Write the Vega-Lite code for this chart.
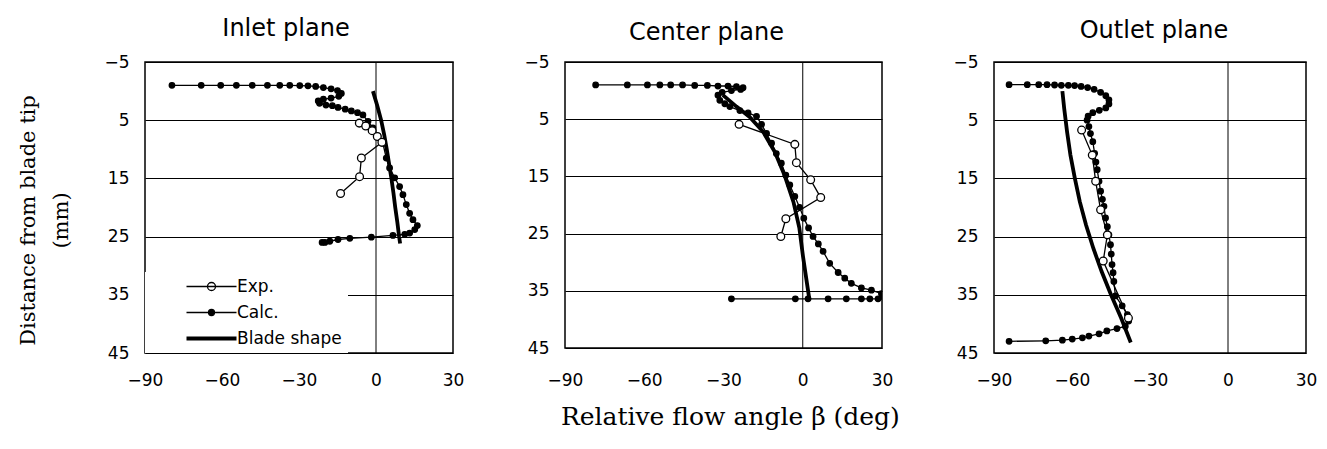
{
  "$schema": "https://vega.github.io/schema/vega-lite/v6.json",
  "background": "white",
  "padding": {"left": 17, "top": 16, "right": 5, "bottom": 5},
  "title": {"text": "Relative flow angle  β  (deg)", "orient": "bottom", "anchor": "middle", "font": "DejaVu Serif", "fontSize": 25, "fontWeight": "normal", "color": "black", "offset": 16, "dx": 63},
  "config": {
    "view": {"stroke": "black", "strokeWidth": 1.5},
    "font": "DejaVu Sans",
    "axis": {"domain": false, "ticks": false, "labelFont": "DejaVu Sans", "labelFontSize": 17, "labelColor": "black", "labelOverlap": false, "labelFlush": false, "gridColor": "black", "gridWidth": 1, "gridOpacity": 1},
    "title": {"font": "DejaVu Sans", "fontSize": 24, "fontWeight": "normal", "color": "black", "anchor": "middle"}
  },
  "datasets": {
    "zero": [{"z": 0}],
    "rows": [
      {"p":"Inlet","s":"Calc.","i":1,"a":-79.5,"d":-1.0},
      {"p":"Inlet","s":"Calc.","i":2,"a":-68.1,"d":-1.0},
      {"p":"Inlet","s":"Calc.","i":3,"a":-60.5,"d":-1.0},
      {"p":"Inlet","s":"Calc.","i":4,"a":-54.4,"d":-1.0},
      {"p":"Inlet","s":"Calc.","i":5,"a":-48.2,"d":-1.0},
      {"p":"Inlet","s":"Calc.","i":6,"a":-42.3,"d":-1.0},
      {"p":"Inlet","s":"Calc.","i":7,"a":-37.5,"d":-1.0},
      {"p":"Inlet","s":"Calc.","i":8,"a":-33.6,"d":-1.0},
      {"p":"Inlet","s":"Calc.","i":9,"a":-29.7,"d":-0.95},
      {"p":"Inlet","s":"Calc.","i":10,"a":-26.5,"d":-0.9},
      {"p":"Inlet","s":"Calc.","i":11,"a":-23.5,"d":-0.8},
      {"p":"Inlet","s":"Calc.","i":12,"a":-20.5,"d":-0.6},
      {"p":"Inlet","s":"Calc.","i":13,"a":-17.5,"d":-0.4},
      {"p":"Inlet","s":"Calc.","i":14,"a":-15.0,"d":-0.1},
      {"p":"Inlet","s":"Calc.","i":15,"a":-13.5,"d":0.4},
      {"p":"Inlet","s":"Calc.","i":16,"a":-14.5,"d":0.9},
      {"p":"Inlet","s":"Calc.","i":17,"a":-17.5,"d":1.2},
      {"p":"Inlet","s":"Calc.","i":18,"a":-20.5,"d":1.4},
      {"p":"Inlet","s":"Calc.","i":19,"a":-22.5,"d":1.7},
      {"p":"Inlet","s":"Calc.","i":20,"a":-22.0,"d":2.1},
      {"p":"Inlet","s":"Calc.","i":21,"a":-19.5,"d":2.4},
      {"p":"Inlet","s":"Calc.","i":22,"a":-17.0,"d":2.5},
      {"p":"Inlet","s":"Calc.","i":23,"a":-14.8,"d":2.8},
      {"p":"Inlet","s":"Calc.","i":24,"a":-12.0,"d":3.1},
      {"p":"Inlet","s":"Calc.","i":25,"a":-9.6,"d":3.4},
      {"p":"Inlet","s":"Calc.","i":26,"a":-7.2,"d":3.7},
      {"p":"Inlet","s":"Calc.","i":27,"a":-5.1,"d":4.1},
      {"p":"Inlet","s":"Calc.","i":28,"a":-3.1,"d":5.2},
      {"p":"Inlet","s":"Calc.","i":29,"a":-1.2,"d":6.3},
      {"p":"Inlet","s":"Calc.","i":30,"a":0.8,"d":7.7},
      {"p":"Inlet","s":"Calc.","i":31,"a":2.7,"d":9.0},
      {"p":"Inlet","s":"Calc.","i":32,"a":4.0,"d":11.5},
      {"p":"Inlet","s":"Calc.","i":33,"a":5.3,"d":13.2},
      {"p":"Inlet","s":"Calc.","i":34,"a":7.3,"d":14.9},
      {"p":"Inlet","s":"Calc.","i":35,"a":9.2,"d":16.4},
      {"p":"Inlet","s":"Calc.","i":36,"a":10.5,"d":17.8},
      {"p":"Inlet","s":"Calc.","i":37,"a":11.8,"d":19.5},
      {"p":"Inlet","s":"Calc.","i":38,"a":13.1,"d":21.0},
      {"p":"Inlet","s":"Calc.","i":39,"a":14.4,"d":22.1},
      {"p":"Inlet","s":"Calc.","i":40,"a":16.1,"d":23.1},
      {"p":"Inlet","s":"Calc.","i":41,"a":15.1,"d":23.8},
      {"p":"Inlet","s":"Calc.","i":42,"a":13.1,"d":24.4},
      {"p":"Inlet","s":"Calc.","i":43,"a":11.2,"d":24.6},
      {"p":"Inlet","s":"Calc.","i":44,"a":6.6,"d":24.8},
      {"p":"Inlet","s":"Calc.","i":45,"a":-1.8,"d":25.1},
      {"p":"Inlet","s":"Calc.","i":46,"a":-10.2,"d":25.3},
      {"p":"Inlet","s":"Calc.","i":47,"a":-14.8,"d":25.5},
      {"p":"Inlet","s":"Calc.","i":48,"a":-18.0,"d":25.8},
      {"p":"Inlet","s":"Calc.","i":49,"a":-19.9,"d":26.0},
      {"p":"Inlet","s":"Calc.","i":50,"a":-21.0,"d":26.0},
      {"p":"Inlet","s":"Exp.","i":1,"a":-6.5,"d":5.5},
      {"p":"Inlet","s":"Exp.","i":2,"a":-4.0,"d":6.0},
      {"p":"Inlet","s":"Exp.","i":3,"a":-1.5,"d":6.8},
      {"p":"Inlet","s":"Exp.","i":4,"a":0.5,"d":7.8},
      {"p":"Inlet","s":"Exp.","i":5,"a":2.3,"d":8.8},
      {"p":"Inlet","s":"Exp.","i":6,"a":-5.7,"d":11.5},
      {"p":"Inlet","s":"Exp.","i":7,"a":-6.4,"d":14.7},
      {"p":"Inlet","s":"Exp.","i":8,"a":-13.8,"d":17.6},
      {"p":"Inlet","s":"Blade shape","i":1,"a":-1.2,"d":0},
      {"p":"Inlet","s":"Blade shape","i":2,"a":0.5,"d":2.5},
      {"p":"Inlet","s":"Blade shape","i":3,"a":2.0,"d":5},
      {"p":"Inlet","s":"Blade shape","i":4,"a":3.2,"d":7.5},
      {"p":"Inlet","s":"Blade shape","i":5,"a":4.2,"d":10},
      {"p":"Inlet","s":"Blade shape","i":6,"a":5.1,"d":12.5},
      {"p":"Inlet","s":"Blade shape","i":7,"a":6.0,"d":15},
      {"p":"Inlet","s":"Blade shape","i":8,"a":6.8,"d":17.5},
      {"p":"Inlet","s":"Blade shape","i":9,"a":7.5,"d":20},
      {"p":"Inlet","s":"Blade shape","i":10,"a":8.3,"d":22.5},
      {"p":"Inlet","s":"Blade shape","i":11,"a":9.0,"d":25},
      {"p":"Inlet","s":"Blade shape","i":12,"a":9.4,"d":26.2},

      {"p":"Center","s":"Calc.","i":1,"a":-78.4,"d":-1.0},
      {"p":"Center","s":"Calc.","i":2,"a":-66.4,"d":-1.0},
      {"p":"Center","s":"Calc.","i":3,"a":-58.8,"d":-1.0},
      {"p":"Center","s":"Calc.","i":4,"a":-54.1,"d":-1.0},
      {"p":"Center","s":"Calc.","i":5,"a":-50.0,"d":-1.0},
      {"p":"Center","s":"Calc.","i":6,"a":-45.5,"d":-1.0},
      {"p":"Center","s":"Calc.","i":7,"a":-40.9,"d":-0.9},
      {"p":"Center","s":"Calc.","i":8,"a":-36.1,"d":-0.9},
      {"p":"Center","s":"Calc.","i":9,"a":-32.1,"d":-0.8},
      {"p":"Center","s":"Calc.","i":10,"a":-28.3,"d":-0.8},
      {"p":"Center","s":"Calc.","i":11,"a":-25.1,"d":-0.7},
      {"p":"Center","s":"Calc.","i":12,"a":-22.6,"d":-0.5},
      {"p":"Center","s":"Calc.","i":13,"a":-23.5,"d":-0.2},
      {"p":"Center","s":"Calc.","i":14,"a":-27.0,"d":0.0},
      {"p":"Center","s":"Calc.","i":15,"a":-30.5,"d":0.3},
      {"p":"Center","s":"Calc.","i":16,"a":-32.1,"d":0.8},
      {"p":"Center","s":"Calc.","i":17,"a":-31.4,"d":1.7},
      {"p":"Center","s":"Calc.","i":18,"a":-29.5,"d":2.3},
      {"p":"Center","s":"Calc.","i":19,"a":-27.6,"d":2.8},
      {"p":"Center","s":"Calc.","i":20,"a":-23.8,"d":3.5},
      {"p":"Center","s":"Calc.","i":21,"a":-20.7,"d":3.9},
      {"p":"Center","s":"Calc.","i":22,"a":-17.5,"d":4.5},
      {"p":"Center","s":"Calc.","i":23,"a":-15.6,"d":5.9},
      {"p":"Center","s":"Calc.","i":24,"a":-13.7,"d":7.5},
      {"p":"Center","s":"Calc.","i":25,"a":-11.8,"d":9.2},
      {"p":"Center","s":"Calc.","i":26,"a":-10.0,"d":11.0},
      {"p":"Center","s":"Calc.","i":27,"a":-8.1,"d":12.7},
      {"p":"Center","s":"Calc.","i":28,"a":-6.4,"d":14.8},
      {"p":"Center","s":"Calc.","i":29,"a":-4.9,"d":16.5},
      {"p":"Center","s":"Calc.","i":30,"a":-3.0,"d":18.5},
      {"p":"Center","s":"Calc.","i":31,"a":-1.2,"d":20.4},
      {"p":"Center","s":"Calc.","i":32,"a":0.4,"d":22.3},
      {"p":"Center","s":"Calc.","i":33,"a":2.2,"d":24.0},
      {"p":"Center","s":"Calc.","i":34,"a":3.9,"d":25.5},
      {"p":"Center","s":"Calc.","i":35,"a":5.9,"d":26.8},
      {"p":"Center","s":"Calc.","i":36,"a":7.7,"d":28.1},
      {"p":"Center","s":"Calc.","i":37,"a":10.2,"d":30.2},
      {"p":"Center","s":"Calc.","i":38,"a":13.4,"d":31.8},
      {"p":"Center","s":"Calc.","i":39,"a":15.9,"d":32.8},
      {"p":"Center","s":"Calc.","i":40,"a":18.4,"d":33.7},
      {"p":"Center","s":"Calc.","i":41,"a":22.2,"d":34.5},
      {"p":"Center","s":"Calc.","i":42,"a":26.0,"d":34.9},
      {"p":"Center","s":"Calc.","i":43,"a":29.8,"d":35.5},
      {"p":"Center","s":"Calc.","i":44,"a":30.2,"d":36.0},
      {"p":"Center","s":"Calc.","i":45,"a":28.5,"d":36.4},
      {"p":"Center","s":"Calc.","i":46,"a":25.4,"d":36.4},
      {"p":"Center","s":"Calc.","i":47,"a":22.2,"d":36.4},
      {"p":"Center","s":"Calc.","i":48,"a":16.5,"d":36.4},
      {"p":"Center","s":"Calc.","i":49,"a":9.6,"d":36.4},
      {"p":"Center","s":"Calc.","i":50,"a":2.0,"d":36.4},
      {"p":"Center","s":"Calc.","i":51,"a":-2.8,"d":36.4},
      {"p":"Center","s":"Calc.","i":52,"a":-27.0,"d":36.4},
      {"p":"Center","s":"Exp.","i":1,"a":-24.1,"d":5.9},
      {"p":"Center","s":"Exp.","i":2,"a":-3.0,"d":9.4},
      {"p":"Center","s":"Exp.","i":3,"a":-2.4,"d":12.6},
      {"p":"Center","s":"Exp.","i":4,"a":3.0,"d":15.6},
      {"p":"Center","s":"Exp.","i":5,"a":6.8,"d":18.7},
      {"p":"Center","s":"Exp.","i":6,"a":-6.4,"d":22.4},
      {"p":"Center","s":"Exp.","i":7,"a":-8.3,"d":25.5},
      {"p":"Center","s":"Blade shape","i":1,"a":-30.2,"d":0.8},
      {"p":"Center","s":"Blade shape","i":2,"a":-25.1,"d":2.8},
      {"p":"Center","s":"Blade shape","i":3,"a":-20.1,"d":4.6},
      {"p":"Center","s":"Blade shape","i":4,"a":-15.0,"d":7.2},
      {"p":"Center","s":"Blade shape","i":5,"a":-10.6,"d":10.7},
      {"p":"Center","s":"Blade shape","i":6,"a":-6.8,"d":14.9},
      {"p":"Center","s":"Blade shape","i":7,"a":-3.5,"d":19.5},
      {"p":"Center","s":"Blade shape","i":8,"a":-1.3,"d":24.0},
      {"p":"Center","s":"Blade shape","i":9,"a":0.1,"d":29.0},
      {"p":"Center","s":"Blade shape","i":10,"a":1.6,"d":33.7},
      {"p":"Center","s":"Blade shape","i":11,"a":2.5,"d":36.5},

      {"p":"Outlet","s":"Calc.","i":1,"a":-84.2,"d":-1.1},
      {"p":"Outlet","s":"Calc.","i":2,"a":-77.2,"d":-1.1},
      {"p":"Outlet","s":"Calc.","i":3,"a":-72.8,"d":-1.1},
      {"p":"Outlet","s":"Calc.","i":4,"a":-69.6,"d":-1.1},
      {"p":"Outlet","s":"Calc.","i":5,"a":-66.7,"d":-1.05},
      {"p":"Outlet","s":"Calc.","i":6,"a":-64.1,"d":-1.0},
      {"p":"Outlet","s":"Calc.","i":7,"a":-61.4,"d":-1.0},
      {"p":"Outlet","s":"Calc.","i":8,"a":-59.0,"d":-0.95},
      {"p":"Outlet","s":"Calc.","i":9,"a":-56.5,"d":-0.8},
      {"p":"Outlet","s":"Calc.","i":10,"a":-54.0,"d":-0.6},
      {"p":"Outlet","s":"Calc.","i":11,"a":-51.5,"d":-0.3},
      {"p":"Outlet","s":"Calc.","i":12,"a":-49.0,"d":0.2},
      {"p":"Outlet","s":"Calc.","i":13,"a":-47.0,"d":0.8},
      {"p":"Outlet","s":"Calc.","i":14,"a":-45.8,"d":1.5},
      {"p":"Outlet","s":"Calc.","i":15,"a":-45.8,"d":2.2},
      {"p":"Outlet","s":"Calc.","i":16,"a":-47.0,"d":2.9},
      {"p":"Outlet","s":"Calc.","i":17,"a":-49.5,"d":3.3},
      {"p":"Outlet","s":"Calc.","i":18,"a":-52.0,"d":3.7},
      {"p":"Outlet","s":"Calc.","i":19,"a":-53.8,"d":4.3},
      {"p":"Outlet","s":"Calc.","i":20,"a":-54.2,"d":5.0},
      {"p":"Outlet","s":"Calc.","i":21,"a":-53.5,"d":6.1},
      {"p":"Outlet","s":"Calc.","i":22,"a":-52.9,"d":7.3},
      {"p":"Outlet","s":"Calc.","i":23,"a":-52.0,"d":8.7},
      {"p":"Outlet","s":"Calc.","i":24,"a":-51.3,"d":10.7},
      {"p":"Outlet","s":"Calc.","i":25,"a":-50.8,"d":12.2},
      {"p":"Outlet","s":"Calc.","i":26,"a":-50.3,"d":13.5},
      {"p":"Outlet","s":"Calc.","i":27,"a":-49.6,"d":15.5},
      {"p":"Outlet","s":"Calc.","i":28,"a":-49.0,"d":17.2},
      {"p":"Outlet","s":"Calc.","i":29,"a":-48.3,"d":18.6},
      {"p":"Outlet","s":"Calc.","i":30,"a":-47.7,"d":19.8},
      {"p":"Outlet","s":"Calc.","i":31,"a":-47.1,"d":21.8},
      {"p":"Outlet","s":"Calc.","i":32,"a":-46.4,"d":23.3},
      {"p":"Outlet","s":"Calc.","i":33,"a":-45.8,"d":24.7},
      {"p":"Outlet","s":"Calc.","i":34,"a":-45.2,"d":26.4},
      {"p":"Outlet","s":"Calc.","i":35,"a":-44.9,"d":28.0},
      {"p":"Outlet","s":"Calc.","i":36,"a":-44.6,"d":29.8},
      {"p":"Outlet","s":"Calc.","i":37,"a":-44.2,"d":31.2},
      {"p":"Outlet","s":"Calc.","i":38,"a":-43.9,"d":32.7},
      {"p":"Outlet","s":"Calc.","i":39,"a":-43.3,"d":35.2},
      {"p":"Outlet","s":"Calc.","i":40,"a":-40.7,"d":36.9},
      {"p":"Outlet","s":"Calc.","i":41,"a":-38.7,"d":38.4},
      {"p":"Outlet","s":"Calc.","i":42,"a":-38.2,"d":39.5},
      {"p":"Outlet","s":"Calc.","i":43,"a":-39.5,"d":40.4},
      {"p":"Outlet","s":"Calc.","i":44,"a":-42.7,"d":40.8},
      {"p":"Outlet","s":"Calc.","i":45,"a":-46.6,"d":41.2},
      {"p":"Outlet","s":"Calc.","i":46,"a":-49.6,"d":41.7},
      {"p":"Outlet","s":"Calc.","i":47,"a":-53.5,"d":42.1},
      {"p":"Outlet","s":"Calc.","i":48,"a":-56.0,"d":42.4},
      {"p":"Outlet","s":"Calc.","i":49,"a":-59.9,"d":42.6},
      {"p":"Outlet","s":"Calc.","i":50,"a":-63.7,"d":42.8},
      {"p":"Outlet","s":"Calc.","i":51,"a":-70.1,"d":42.9},
      {"p":"Outlet","s":"Calc.","i":52,"a":-84.2,"d":43.0},
      {"p":"Outlet","s":"Exp.","i":1,"a":-56.3,"d":6.7},
      {"p":"Outlet","s":"Exp.","i":2,"a":-52.2,"d":11.0},
      {"p":"Outlet","s":"Exp.","i":3,"a":-50.9,"d":15.5},
      {"p":"Outlet","s":"Exp.","i":4,"a":-49.0,"d":20.4},
      {"p":"Outlet","s":"Exp.","i":5,"a":-46.4,"d":24.7},
      {"p":"Outlet","s":"Exp.","i":6,"a":-48.0,"d":29.2},
      {"p":"Outlet","s":"Exp.","i":7,"a":-38.3,"d":39.0},
      {"p":"Outlet","s":"Blade shape","i":1,"a":-63.7,"d":0},
      {"p":"Outlet","s":"Blade shape","i":2,"a":-63.0,"d":3},
      {"p":"Outlet","s":"Blade shape","i":3,"a":-61.9,"d":7},
      {"p":"Outlet","s":"Blade shape","i":4,"a":-60.6,"d":11},
      {"p":"Outlet","s":"Blade shape","i":5,"a":-58.9,"d":15},
      {"p":"Outlet","s":"Blade shape","i":6,"a":-57.0,"d":19},
      {"p":"Outlet","s":"Blade shape","i":7,"a":-54.6,"d":23},
      {"p":"Outlet","s":"Blade shape","i":8,"a":-51.8,"d":27},
      {"p":"Outlet","s":"Blade shape","i":9,"a":-48.6,"d":31},
      {"p":"Outlet","s":"Blade shape","i":10,"a":-45.0,"d":35},
      {"p":"Outlet","s":"Blade shape","i":11,"a":-41.1,"d":39},
      {"p":"Outlet","s":"Blade shape","i":12,"a":-37.4,"d":43.2}
    ]
  },
  "spacing": 58,
  "resolve": {"scale": {"stroke": "independent"}, "legend": {"stroke": "independent"}},
  "hconcat": [
    {
      "width": 308, "height": 291,
      "title": {"text": "Inlet plane", "offset": 12, "dx": -13},
      "data": {"name": "rows"},
      "transform": [{"filter": "datum.p === 'Inlet'"}],
      "layer": [
        {
          "data": {"name": "zero"},
          "mark": {"type": "rule", "color": "black", "strokeWidth": 1},
          "encoding": {"x": {"field": "z", "type": "quantitative", "title": null, "scale": {"domain": [-90, 30], "nice": false, "zero": false}}}
        },
        {
          "mark": {"type": "line", "strokeCap": "butt"},
          "encoding": {
            "x": {"field": "a", "type": "quantitative", "scale": {"domain": [-90, 30], "nice": false, "zero": false},
                  "axis": {"values": [-90, -60, -30, 0, 30], "grid": false, "labelPadding": 19, "title": null}},
            "y": {"field": "d", "type": "quantitative", "scale": {"domain": [-5, 45], "reverse": true, "nice": false, "zero": false},
                  "axis": {"values": [-5, 0, 5, 10, 15, 20, 25, 30, 35, 40, 45], "grid": true, "labelPadding": 16,
                           "title": ["Distance from blade tip", "(mm)"], "titleFont": "DejaVu Serif", "titleFontSize": 21, "titleFontWeight": "normal", "titleColor": "black", "titlePadding": 32, "titleLineHeight": 33, "titleY": 158}},
            "order": {"field": "i", "type": "quantitative"},
            "stroke": {"field": "s", "type": "nominal", "scale": {"domain": ["Exp.", "Calc.", "Blade shape"], "range": ["black", "black", "black"]},
              "legend": {
                "title": null,
                "orient": "bottom-left", "offset": 0, "padding": 6,
                "fillColor": "white",
                "symbolSize": 100, "symbolOffset": 52, "labelOffset": 17,
                "labelFont": "DejaVu Sans", "labelFontSize": 17, "labelColor": "black", "labelLimit": 300,
                "rowPadding": 8,
                "encode": {"symbols": {"update": {
                  "shape": {"signal": "datum.value === 'Exp.' ? 'M-5,0H5M-0.8,0A0.8,0.8,0,1,1,0.8,0A0.8,0.8,0,1,1,-0.8,0Z' : datum.value === 'Calc.' ? 'M-5,0H5M-0.6,0A0.6,0.6,0,1,1,0.6,0A0.6,0.6,0,1,1,-0.6,0Z' : 'M-5,0H5'"},
                  "fill": {"signal": "datum.value === 'Calc.' ? 'black' : datum.value === 'Exp.' ? 'white' : 'transparent'"},
                  "stroke": {"value": "black"},
                  "strokeWidth": {"signal": "datum.value === 'Blade shape' ? 3.8 : 1.3"},
                  "opacity": {"value": 1}
                }}}
              }},
            "strokeWidth": {"condition": {"test": "datum.s === 'Blade shape'", "value": 3.8}, "value": 1.3}
          }
        },
        {
          "transform": [{"filter": "datum.s !== 'Blade shape'"}],
          "mark": {"type": "point", "stroke": "black", "strokeWidth": 1.3, "opacity": 1},
          "encoding": {
            "x": {"field": "a", "type": "quantitative", "scale": {"domain": [-90, 30], "nice": false, "zero": false}},
            "y": {"field": "d", "type": "quantitative", "scale": {"domain": [-5, 45], "reverse": true, "nice": false, "zero": false}},
            "fill": {"condition": {"test": "datum.s === 'Calc.'", "value": "black"}, "value": "white"},
            "size": {"condition": {"test": "datum.s === 'Calc.'", "value": 30}, "value": 60}
          }
        }
      ]
    },
    {
      "width": 317, "height": 286,
      "title": {"text": "Center  plane", "offset": 8, "dx": -17},
      "data": {"name": "rows"},
      "transform": [{"filter": "datum.p === 'Center'"}],
      "layer": [
        {
          "data": {"name": "zero"},
          "mark": {"type": "rule", "color": "black", "strokeWidth": 1},
          "encoding": {"x": {"field": "z", "type": "quantitative", "title": null, "scale": {"domain": [-90, 30], "nice": false, "zero": false}}}
        },
        {
          "mark": {"type": "line", "color": "black", "strokeCap": "butt", "clip": true},
          "encoding": {
            "x": {"field": "a", "type": "quantitative", "scale": {"domain": [-90, 30], "nice": false, "zero": false},
                  "axis": {"values": [-90, -60, -30, 0, 30], "grid": false, "labelPadding": 24, "title": null}},
            "y": {"field": "d", "type": "quantitative", "scale": {"domain": [-5, 45], "reverse": true, "nice": false, "zero": false},
                  "axis": {"values": [-5, 0, 5, 10, 15, 20, 25, 30, 35, 40, 45], "grid": true, "labelPadding": 16, "title": null}},
            "order": {"field": "i", "type": "quantitative"},
            "detail": {"field": "s", "type": "nominal"},
            "strokeWidth": {"condition": {"test": "datum.s === 'Blade shape'", "value": 3.8}, "value": 1.3}
          }
        },
        {
          "transform": [{"filter": "datum.s !== 'Blade shape'"}],
          "mark": {"type": "point", "stroke": "black", "strokeWidth": 1.3, "opacity": 1, "clip": true},
          "encoding": {
            "x": {"field": "a", "type": "quantitative", "scale": {"domain": [-90, 30], "nice": false, "zero": false}},
            "y": {"field": "d", "type": "quantitative", "scale": {"domain": [-5, 45], "reverse": true, "nice": false, "zero": false}},
            "fill": {"condition": {"test": "datum.s === 'Calc.'", "value": "black"}, "value": "white"},
            "size": {"condition": {"test": "datum.s === 'Calc.'", "value": 30}, "value": 60}
          }
        }
      ]
    },
    {
      "width": 312, "height": 291,
      "title": {"text": "Outlet plane", "offset": 10, "dx": 4},
      "data": {"name": "rows"},
      "transform": [{"filter": "datum.p === 'Outlet'"}],
      "layer": [
        {
          "data": {"name": "zero"},
          "mark": {"type": "rule", "color": "black", "strokeWidth": 1},
          "encoding": {"x": {"field": "z", "type": "quantitative", "title": null, "scale": {"domain": [-90, 30], "nice": false, "zero": false}}}
        },
        {
          "mark": {"type": "line", "color": "black", "strokeCap": "butt"},
          "encoding": {
            "x": {"field": "a", "type": "quantitative", "scale": {"domain": [-90, 30], "nice": false, "zero": false},
                  "axis": {"values": [-90, -60, -30, 0, 30], "grid": false, "labelPadding": 19, "title": null}},
            "y": {"field": "d", "type": "quantitative", "scale": {"domain": [-5, 45], "reverse": true, "nice": false, "zero": false},
                  "axis": {"values": [-5, 0, 5, 10, 15, 20, 25, 30, 35, 40, 45], "grid": true, "labelPadding": 16, "title": null}},
            "order": {"field": "i", "type": "quantitative"},
            "detail": {"field": "s", "type": "nominal"},
            "strokeWidth": {"condition": {"test": "datum.s === 'Blade shape'", "value": 3.8}, "value": 1.3}
          }
        },
        {
          "transform": [{"filter": "datum.s !== 'Blade shape'"}],
          "mark": {"type": "point", "stroke": "black", "strokeWidth": 1.3, "opacity": 1},
          "encoding": {
            "x": {"field": "a", "type": "quantitative", "scale": {"domain": [-90, 30], "nice": false, "zero": false}},
            "y": {"field": "d", "type": "quantitative", "scale": {"domain": [-5, 45], "reverse": true, "nice": false, "zero": false}},
            "fill": {"condition": {"test": "datum.s === 'Calc.'", "value": "black"}, "value": "white"},
            "size": {"condition": {"test": "datum.s === 'Calc.'", "value": 30}, "value": 60}
          }
        }
      ]
    }
  ]
}
